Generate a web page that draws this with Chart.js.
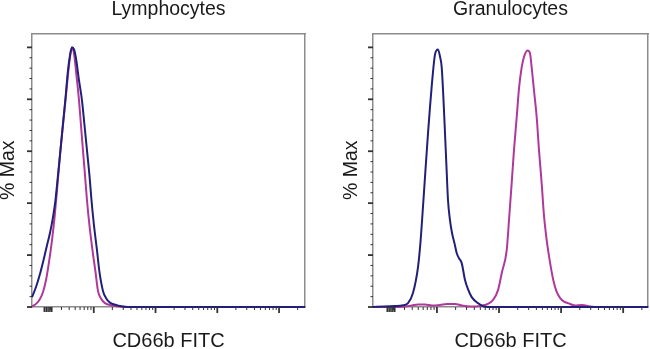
<!DOCTYPE html>
<html>
<head>
<meta charset="utf-8">
<title>CD66b FITC</title>
<script src="https://cdn.jsdelivr.net/npm/chart.js@4.4.0/dist/chart.umd.min.js"></script>
<style>
  body { margin: 0; background: #fff; overflow: hidden; }
  canvas { position: absolute; top: 0; }
  #lymph { left: 0; }
  #gran { left: 325px; }
</style>
</head>
<body>
<canvas id="lymph" width="325" height="349"></canvas>
<canvas id="gran" width="325" height="349"></canvas>
<script>
// x is in display decades (2 = 10^2 ... 5 = 10^5), y is % Max

// Lymphocytes
const lymphCtlX = [1.000, 1.065, 1.129, 1.194, 1.243, 1.291, 1.340, 1.380, 1.421, 1.461, 1.502, 1.542, 1.583, 1.615, 1.647, 1.680, 1.712, 1.761, 1.809, 1.850, 1.890, 1.930, 1.963, 2.003, 2.052, 2.092, 2.149, 2.197, 2.262, 2.359, 2.472, 2.667, 5.42];
const lymphCtlY = [3.8, 7.7, 12.7, 18.8, 23.8, 28.5, 34.6, 41.2, 50.8, 60.4, 70.8, 80.4, 91.2, 96.9, 100, 99.2, 95.8, 87.3, 79.6, 70.0, 60.4, 50.8, 41.2, 31.5, 21.9, 13.5, 6.2, 3.5, 1.7, 0.8, 0.2, 0, 0];
const lymphCd66bX = [1.000, 1.065, 1.129, 1.178, 1.227, 1.275, 1.324, 1.364, 1.405, 1.453, 1.502, 1.550, 1.599, 1.631, 1.655, 1.680, 1.720, 1.761, 1.793, 1.825, 1.858, 1.890, 1.930, 1.979, 2.028, 2.068, 2.117, 2.181, 2.294, 2.424, 2.586, 5.42];
const lymphCd66bY = [0.2, 1.2, 3.1, 5.8, 10.4, 17.3, 25.8, 34.2, 45.0, 58.5, 70.0, 81.5, 93.1, 98.5, 99.6, 97.7, 89.2, 79.6, 70.0, 60.4, 50.8, 41.2, 31.5, 21.9, 13.5, 6.2, 3.3, 1.5, 0.6, 0.2, 0, 0];

// Granulocytes
const granCtlX = [0.970, 1.163, 1.324, 1.437, 1.534, 1.614, 1.695, 1.735, 1.775, 1.816, 1.856, 1.888, 1.920, 1.969, 2.017, 2.049, 2.077, 2.106, 2.130, 2.154, 2.178, 2.210, 2.243, 2.283, 2.318, 2.355, 2.399, 2.452, 2.500, 2.560, 2.661, 2.774, 2.935, 5.40];
const granCtlY = [0, 0.2, 0.4, 0.6, 1.5, 5.4, 15.4, 25.0, 38.5, 53.0, 66.9, 77.0, 86.2, 97.3, 99.2, 96.5, 92.3, 79.6, 66.9, 53.8, 41.2, 33.5, 28.5, 24.5, 20.8, 18.8, 16.9, 10.4, 6.9, 3.8, 1.5, 0.1, 0, 0];
const granCd66bX = [0.970, 1.324, 1.485, 1.598, 1.695, 1.808, 1.920, 2.049, 2.162, 2.291, 2.404, 2.533, 2.694, 2.822, 2.903, 2.984, 3.048, 3.124, 3.161, 3.204, 3.241, 3.285, 3.322, 3.365, 3.410, 3.462, 3.499, 3.526, 3.563, 3.607, 3.644, 3.687, 3.724, 3.768, 3.821, 3.874, 3.926, 3.982, 4.047, 4.111, 4.224, 4.337, 4.466, 4.627, 5.40];
const granCd66bY = [0, 0, 0.2, 0.6, 1.0, 1.0, 0.6, 0.8, 1.2, 1.2, 0.6, 0.2, 0.4, 1.2, 2.7, 6.5, 13.5, 21.9, 33.5, 47.7, 60.4, 73.1, 84.2, 92.3, 96.9, 98.8, 97.7, 92.3, 83.5, 73.1, 60.4, 47.7, 35.4, 25.8, 17.3, 10.4, 6.0, 3.5, 2.1, 1.5, 0.6, 0.8, 0.2, 0, 0];

// axis marks
const xMajorTicks = [2, 3, 4, 5];
const xNearZeroTicks = [1.2, 1.23, 1.26, 1.29, 1.32];
const yMajorTicks = [0, 20, 40, 60, 80, 100];

const xMinorTicks = [1, 2, 3, 4, 5].flatMap(d => [2, 3, 4, 5, 6, 7, 8, 9].map(k => d + Math.log10(k)));
const yMinorTicks = [];
for (let v = 4; v < 100; v += 4) if (v % 20) yMinorTicks.push(v);

const FONT = 'Liberation Sans, Arial, sans-serif';
const CTL_COLOR = '#20207a';
const CD66B_COLOR = '#b0389a';

const toPoints = (xs, ys) => xs.map((x, i) => ({ x, y: ys[i] }));

// short tick marks outside the frame, placed by the chart scales
const flowTicks = {
  id: 'flowTicks',
  afterDraw(chart) {
    const { ctx, chartArea, scales: { x, y } } = chart;
    ctx.save();
    ctx.strokeStyle = '#333';
    const xMark = (vals, len, w) => {
      ctx.lineWidth = w;
      vals.forEach(v => {
        if (v < x.min || v > x.max) return;
        const px = x.getPixelForValue(v);
        ctx.beginPath();
        ctx.moveTo(px, chartArea.bottom);
        ctx.lineTo(px, chartArea.bottom + len);
        ctx.stroke();
      });
    };
    const yMark = (vals, len, w) => {
      ctx.lineWidth = w;
      vals.forEach(v => {
        const py = y.getPixelForValue(v);
        ctx.beginPath();
        ctx.moveTo(chartArea.left - len, py);
        ctx.lineTo(chartArea.left, py);
        ctx.stroke();
      });
    };
    xMark(xMinorTicks, 3, 1);
    xMark(xNearZeroTicks, 5, 1.6);
    xMark(xMajorTicks, 6, 1.8);
    yMark(yMinorTicks, 2.5, 1);
    yMark(yMajorTicks, 5, 1.8);
    ctx.restore();
  }
};

function flowChart(id, title, ctl, cd66b, frame) {
  const edge = { color: '#8c8c8c', width: 1.5 };
  const noGrid = { display: false, drawTicks: false };
  return new Chart(document.getElementById(id), {
    type: 'line',
    data: {
      datasets: [
        { label: 'Control', data: ctl, borderColor: CTL_COLOR, clip: 3 },
        { label: 'CD66b', data: cd66b, borderColor: CD66B_COLOR, clip: 3 }
      ]
    },
    options: {
      responsive: false,
      animation: false,
      layout: { padding: { left: frame.padLeft, right: frame.padRight, top: 0, bottom: 0 } },
      elements: {
        point: { radius: 0 },
        line: { borderWidth: 2, cubicInterpolationMode: 'monotone' }
      },
      plugins: {
        legend: { display: false },
        tooltip: { enabled: false },
        title: {
          display: true,
          text: title,
          fullSize: false,
          color: '#1a1a1a',
          font: { family: FONT, size: 19.5, weight: 'normal', lineHeight: 0.7 },
          padding: { top: 2.3, bottom: 17.4 }
        }
      },
      scales: {
        x: {
          type: 'linear',
          min: frame.xMin,
          max: frame.xMax,
          ticks: { display: false },
          grid: noGrid,
          border: edge,
          title: {
            display: true,
            text: 'CD66b FITC',
            color: '#1a1a1a',
            font: { family: FONT, size: 20, lineHeight: 0.7 },
            padding: { top: 27, bottom: 1 }
          }
        },
        y: {
          min: 0,
          max: 105.4,
          ticks: { display: false },
          grid: noGrid,
          border: edge,
          title: {
            display: true,
            text: '% Max',
            color: '#1a1a1a',
            font: { family: FONT, size: 19.5, lineHeight: 0.7 },
            padding: { top: 1.4, bottom: frame.yTitleGap }
          }
        },
        x2: {
          type: 'linear', position: 'top', min: frame.xMin, max: frame.xMax,
          ticks: { display: false }, grid: noGrid, border: edge
        },
        y2: {
          type: 'linear', position: 'right', min: 0, max: 105.4,
          ticks: { display: false }, grid: noGrid, border: edge
        }
      }
    },
    plugins: [flowTicks]
  });
}

flowChart('lymph', 'Lymphocytes',
  toPoints(lymphCtlX, lymphCtlY), toPoints(lymphCd66bX, lymphCd66bY),
  { xMin: 1.0, xMax: 5.42, padLeft: 0, padRight: 20, yTitleGap: 16.95 });

flowChart('gran', 'Granulocytes',
  toPoints(granCtlX, granCtlY), toPoints(granCd66bX, granCd66bY),
  { xMin: 0.97, xMax: 5.40, padLeft: 18.3, padRight: 2, yTitleGap: 14.65 });
</script>
</body>
</html>
